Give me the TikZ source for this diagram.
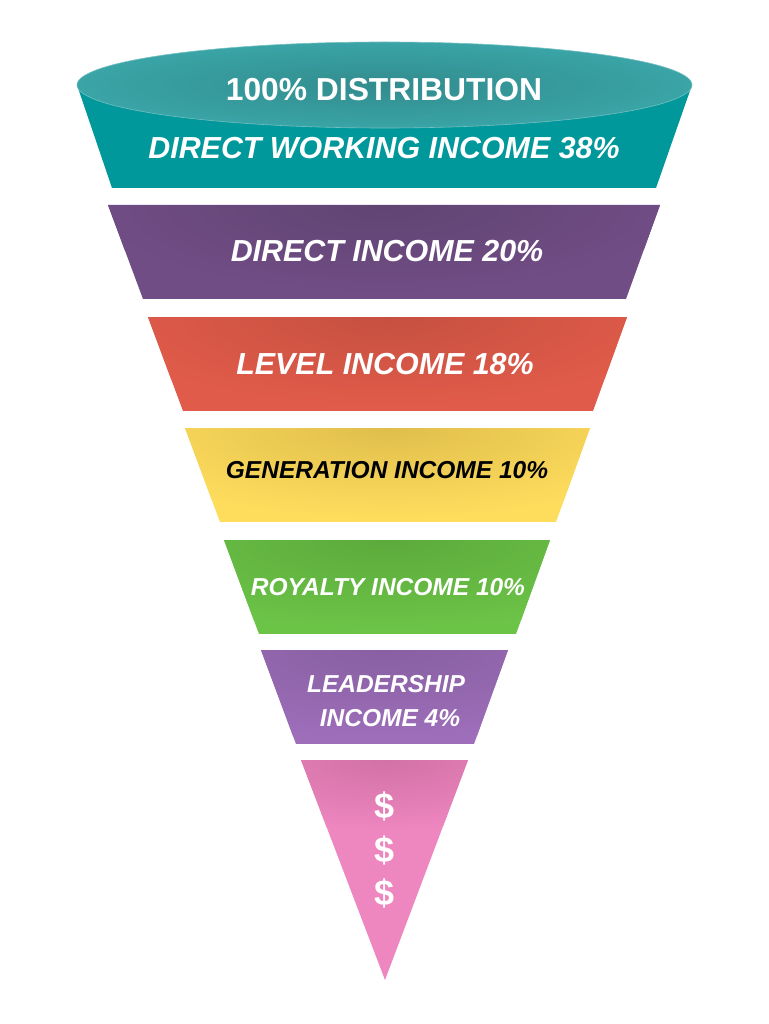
\documentclass[tikz,border=0pt]{standalone}
\usepackage{fontspec}
\setmainfont{Liberation Sans}
\usepackage{xcolor}
\usepackage{tikz}
\usetikzlibrary{positioning}
\definecolor{tealBody}{RGB}{0,152,155}
\definecolor{tealTop}{RGB}{58,164,166}
\definecolor{tealDark}{RGB}{50,140,142}
\definecolor{purpleBand}{RGB}{113,77,133}
\definecolor{purpleDark}{RGB}{96,68,115}
\definecolor{redBand}{RGB}{225,91,74}
\definecolor{redDark}{RGB}{198,80,64}
\definecolor{yellowBand}{RGB}{254,221,93}
\definecolor{yellowDark}{RGB}{224,190,76}
\definecolor{greenBand}{RGB}{108,196,71}
\definecolor{greenDark}{RGB}{92,170,60}
\definecolor{lilacBand}{RGB}{158,110,186}
\definecolor{lilacDark}{RGB}{136,96,162}
\definecolor{pinkBand}{RGB}{238,134,191}
\definecolor{pinkDark}{RGB}{210,114,166}

\begin{document}
\begin{tikzpicture}[x=1pt,y=-1pt,
  lbl/.style={text=white, inner sep=0pt, anchor=base,
    font=\fontsize{30.4}{36}\selectfont\bfseries\itshape},
  lblsmall/.style={lbl, font=\fontsize{24.5}{29}\selectfont\bfseries\itshape},
  dollar/.style={text=white, inner sep=0pt, font=\fontsize{36}{40}\selectfont\bfseries}]
\useasboundingbox[fill=white] (0,0) rectangle (768,1024);

% top band with rim
\fill[tealBody] (77,85) -- (112,188) -- (656,188) -- (692,85) -- cycle;
\shade[inner color=tealDark, outer color=tealTop, draw=tealTop!70!white, line width=0.6pt]
  (384.5,85) ellipse (307.5 and 43);

% lower bands: top y / left x / right x / colours
\foreach \yt/\xl/\xr/\base/\dark in {205/108/660/purpleBand/purpleDark,
    317/148/627/redBand/redDark, 428/185/590/yellowBand/yellowDark,
    540/224/550/greenBand/greenDark, 650/261/508/lilacBand/lilacDark}{
  \begin{scope}
    \clip (\xl,\yt) -- ({\xl+35},{\yt+94}) -- ({\xr-34},{\yt+94}) -- (\xr,\yt) -- cycle;
    \fill[\base] (0,\yt) rectangle (768,{\yt+94});
    \shade[inner color=\dark, outer color=\base] ({(\xl+\xr)/2},\yt) ellipse (300 and 90);
  \end{scope}
}

% tip
\begin{scope}
  \clip (301,760) -- (385,980) -- (468,760) -- cycle;
  \fill[pinkBand] (0,760) rectangle (768,980);
  \shade[inner color=pinkDark, outer color=pinkBand] (385,760) ellipse (200 and 70);
\end{scope}

\node[lbl, font=\fontsize{31.8}{36}\selectfont\bfseries] (distTitle) at (384,101) {100\% DISTRIBUTION};
\node[lbl] (dwIncome) at (384,159) {DIRECT WORKING INCOME 38\%};
\node[lbl] (dIncome) at (387,261) {DIRECT INCOME 20\%};
\node[lbl] (lvlIncome) at (385,374) {LEVEL INCOME 18\%};
\node[lblsmall, text=black] (genIncome) at (387,478) {GENERATION INCOME 10\%};
\node[lblsmall] (royIncome) at (388,595) {ROYALTY INCOME 10\%};
\node[lblsmall] (leadA) at (386,692) {LEADERSHIP};
\node[lblsmall] (leadB) at (390,726) {INCOME 4\%};
\node[dollar] (dolA) at (385,806) {\$};
\node[dollar] (dolB) at (385,850) {\$};
\node[dollar] (dolC) at (385,893) {\$};
\end{tikzpicture}
\end{document}
